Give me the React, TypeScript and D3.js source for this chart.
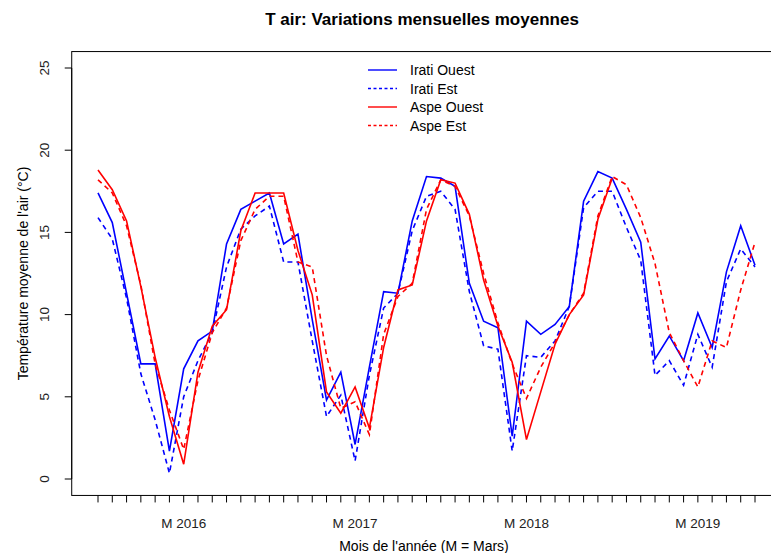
import React from "react";
import * as d3 from "d3";

// Monthly mean air temperature (°C), index 0 = September 2015
const iratiOuest = [
  17.4, 15.6, 11.3, 7.0, 7.0, 1.7, 6.7, 8.4, 9.0, 14.3, 16.4, 16.9,
  17.4, 14.3, 14.9, 9.7, 4.8, 6.5, 2.1, 6.8, 11.4, 11.3, 15.7, 18.4,
  18.3, 17.8, 11.9, 9.6, 9.2, 2.6, 9.6, 8.8, 9.4, 10.5, 16.9, 18.7,
  18.3, 16.4, 14.4, 7.3, 8.7, 7.2, 10.1, 8.0, 12.6, 15.4, 13.0,
];
const iratiEst = [
  15.9, 14.6, 11.0, 6.4, 3.6, 0.35, 5.0, 7.2, 8.9, 12.9, 15.2, 16.0,
  16.6, 13.2, 13.2, 8.4, 3.8, 5.1, 1.1, 6.3, 10.4, 11.3, 15.1, 17.2,
  17.5, 16.4, 11.4, 8.1, 7.9, 1.7, 7.5, 7.4, 8.4, 10.5, 16.5, 17.5,
  17.5, 15.3, 13.3, 6.3, 7.2, 5.7, 8.8, 6.8, 12.0, 14.0, 12.9,
];
const aspeOuest = [
  18.8, 17.6, 15.7, 11.7, 7.4, 3.8, 0.9, 6.5, 9.3, 10.3, 15.1, 17.4,
  17.4, 17.4, 13.9, 11.2, 5.3, 4.0, 5.6, 3.1, 8.0, 11.5, 11.8, 15.7,
  18.2, 18.0, 16.1, 12.1, 9.3, 7.1, 2.4, 5.3, 8.2, 10.0, 11.2, 15.8,
  18.3,
];
const aspeEst = [
  18.2, 17.4, 15.4, 11.8, 7.0, 4.2, 1.8, 6.0, 8.9, 10.4, 14.5, 16.4,
  17.2, 17.2, 13.2, 12.9, 7.5, 4.3, 4.7, 2.7, 8.8, 11.1, 11.9, 16.4,
  18.2, 17.8, 16.0, 12.5, 9.5, 7.0, 4.9, 6.8, 8.3, 10.0, 11.3, 16.0,
  18.4, 17.9, 15.9, 13.1, 8.9, 7.2, 5.6, 8.4, 8.0, 11.5, 14.4,
];

const nMonths = 47;
const marchLabels = ["M 2016", "M 2017", "M 2018", "M 2019"];
const marchIndex = [6, 18, 30, 42];
const yTicks = [0, 5, 10, 15, 20, 25];

const seriesNames = ["Irati Ouest", "Irati Est", "Aspe Ouest", "Aspe Est"];
const seriesData = [iratiOuest, iratiEst, aspeOuest, aspeEst];
const seriesColors = ["#0000ff", "#0000ff", "#ff0000", "#ff0000"];
const seriesDashed = [false, true, false, true];

const W = 771;
const H = 553;
const FONT = "'Liberation Sans', Arial, Helvetica, sans-serif";

export default function App() {
  const x = d3.scaleLinear().domain([0, nMonths - 1]).range([98, 755]);
  const y = d3.scaleLinear().domain([0, 25]).range([479, 68]);

  // plot region with 4% padding on each side
  const xPad = (nMonths - 1) * 0.04;
  const left = x(-xPad);
  const right = x(nMonths - 1 + xPad);
  const top = y(26);
  const bottom = y(-1);

  const line = d3
    .line<number>()
    .x((_, i) => x(i))
    .y((d) => y(d));

  const months = d3.range(nMonths);
  const legendY = [70, 88.5, 107, 125.5];

  return (
    <svg
      width={W}
      height={H}
      style={{ position: "absolute", left: 0, top: 0, background: "#fff" }}
      fontFamily={FONT}
    >
      <rect width={W} height={H} fill="#fff" />
      <text x={422} y={25} textAnchor="middle" fontWeight="bold" fontSize={17} fill="#000">
        T air: Variations mensuelles moyennes
      </text>

      {/* series */}
      {seriesData.map((s, k) => (
        <path
          key={k}
          d={line(s) || ""}
          fill="none"
          stroke={seriesColors[k]}
          strokeWidth={1.6}
          strokeDasharray={seriesDashed[k] ? "5,4" : undefined}
        />
      ))}

      {/* box */}
      <rect x={left} y={top} width={right - left} height={bottom - top} fill="none" stroke="#000" strokeWidth={1} />

      {/* y axis */}
      <line x1={left} x2={left} y1={y(0)} y2={y(25)} stroke="#000" />
      {yTicks.map((t) => (
        <g key={t}>
          <line x1={left - 7} x2={left} y1={y(t)} y2={y(t)} stroke="#000" />
          <text
            transform={`translate(${49},${y(t)}) rotate(-90)`}
            textAnchor="middle"
            fontSize={13.5}
            fill="#222"
          >
            {t}
          </text>
        </g>
      ))}
      <text
        transform={`translate(${28},${(top + bottom) / 2}) rotate(-90)`}
        textAnchor="middle"
        fontSize={14}
        fill="#000"
      >
        Température moyenne de l'air (°C)
      </text>

      {/* x axis */}
      {months.map((m) => (
        <line key={m} x1={x(m)} x2={x(m)} y1={bottom} y2={bottom + 7} stroke="#000" />
      ))}
      {marchIndex.map((m, k) => (
        <text key={k} x={x(m)} y={528} textAnchor="middle" fontSize={13.5} fill="#222">
          {marchLabels[k]}
        </text>
      ))}
      <text x={424} y={551} textAnchor="middle" fontSize={14} fill="#000">
        Mois de l'année (M = Mars)
      </text>

      {/* legend */}
      {seriesNames.map((name, k) => (
        <g key={name}>
          <line
            x1={368}
            x2={397}
            y1={legendY[k]}
            y2={legendY[k]}
            stroke={seriesColors[k]}
            strokeWidth={1.4}
            strokeDasharray={seriesDashed[k] ? "3,2.5" : undefined}
          />
          <text x={410} y={legendY[k] + 5} fontSize={14} fill="#000">
            {name}
          </text>
        </g>
      ))}
    </svg>
  );
}
